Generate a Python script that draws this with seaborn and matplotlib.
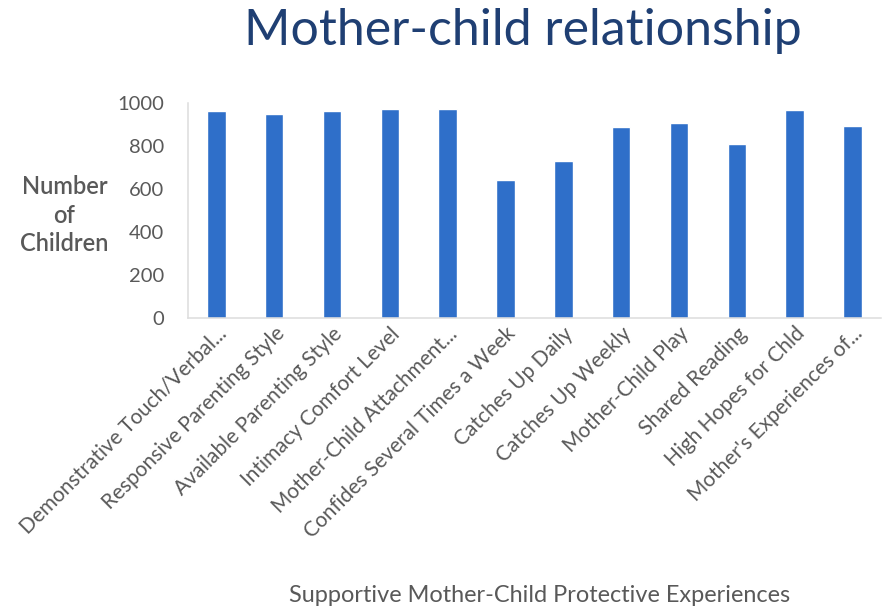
import matplotlib
matplotlib.use("Agg")
import matplotlib.pyplot as plt
import seaborn as sns
import pandas as pd

categories = [
    "Demonstrative Touch/Verbal...",
    "Responsive Parenting Style",
    "Available Parenting Style",
    "Intimacy Comfort Level",
    "Mother-Child Attachment...",
    "Confides Several Times a Week",
    "Catches Up Daily",
    "Catches Up Weekly",
    "Mother-Child Play",
    "Shared Reading",
    "High Hopes for Chld",
    "Mother's Experiences of...",
]
children = [964, 949, 963, 970, 972, 644, 729, 886, 908, 809, 969, 894]
y_ticks = [0, 200, 400, 600, 800, 1000]

sns.set_theme(style="white")
plt.rcParams["font.family"] = ["Lato", "DejaVu Sans"]

df = pd.DataFrame({"experience": categories, "count": children})

fig = plt.figure(figsize=(8.82, 6.13), dpi=100)
ax = fig.add_axes([0.2126, 0.4812, 0.7866, 0.3508])

sns.barplot(data=df, x="experience", y="count", color="#2F6FC9",
            width=0.32, saturation=1, ax=ax)

ax.set_ylim(0, 1000)
ax.set_xlim(-0.5, len(categories) - 0.5)
ax.set_yticks(y_ticks)
ax.set_yticklabels([str(v) for v in y_ticks], fontsize=14.5, color="#595959")
ax.set_xticks(range(len(categories)))
ax.set_xticklabels(categories, rotation=45, ha="right", rotation_mode="anchor",
                   fontsize=15, color="#595959")
ax.tick_params(axis="y", length=0, pad=17)
ax.tick_params(axis="x", length=0, pad=4)
ax.set_xlabel("")
ax.set_ylabel("")

for side in ["top", "right"]:
    ax.spines[side].set_visible(False)
for side in ["bottom", "left"]:
    ax.spines[side].set_color("#DDDDDD")
    ax.spines[side].set_linewidth(1.1)

fig.text(0.593, 0.949, "Mother-child relationship", ha="center", va="center",
         fontsize=36, color="#1F3F73")
fig.text(0.073, 0.649, "Number\nof\nChildren", ha="center", va="center",
         fontsize=17, color="#595959", fontweight="semibold", linespacing=1.3)
fig.text(0.612, 0.028, "Supportive Mother-Child Protective Experiences",
         ha="center", va="center", fontsize=16.9, color="#595959")

fig.savefig("out.png", dpi=100)
